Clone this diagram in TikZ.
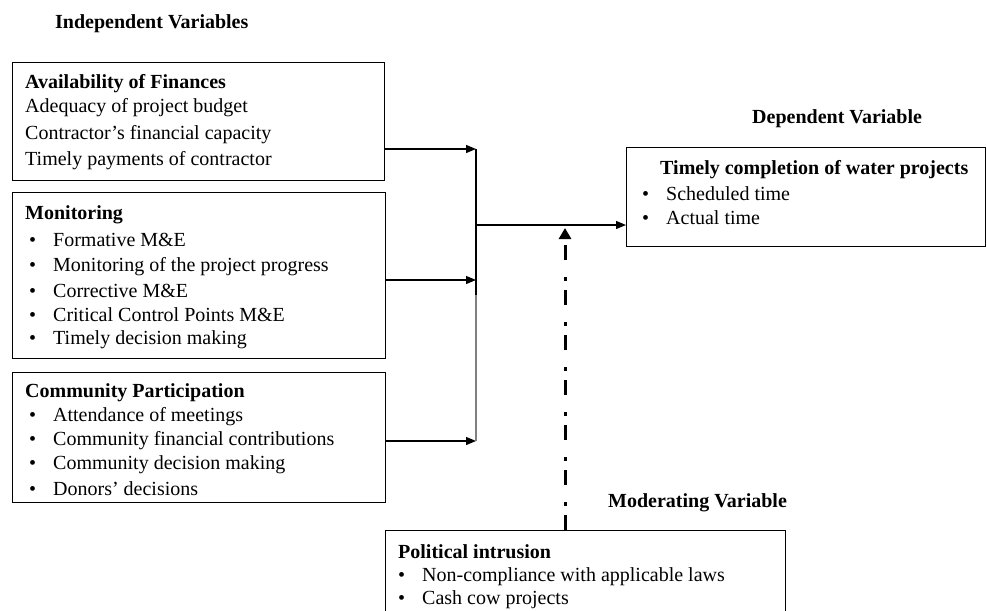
\documentclass[tikz,border=0pt]{standalone}
\usepackage{fontspec}
\setmainfont{Liberation Serif}
\usetikzlibrary{arrows.meta,positioning}
\tikzstyle{line} = [draw, line width=1.2pt, -{Triangle[length=10pt,width=8pt]}]
\tikzstyle{modline} = [draw, line width=3pt, dash pattern=on 15pt off 9pt on 4pt off 17pt, -{Triangle[length=11pt,width=12pt]}]
\tikzstyle{box} = [draw, line width=1.2pt, inner sep=0pt, anchor=north west]
\tikzstyle{txt} = [anchor=west, inner sep=0pt, yshift=-2pt]
\tikzstyle{hd} = [txt, font=\fontsize{20}{22}\selectfont\bfseries]
\newcommand{\bitem}[1]{\makebox[24pt][l]{\textbullet}#1}

\begin{document}
\begin{tikzpicture}[x=1pt,y=-1pt,font=\fontsize{20}{22}\selectfont]
	\clip (0,0) rectangle (987,610);

	% headings
	\node[hd] (indep) at (55,22) {Independent Variables};
	\node[hd] (deph) at (752,117) {Dependent Variable};
	\node[hd] (modh) at (608,501) {Moderating Variable};

	% boxes
	\node[box, minimum width=372pt, minimum height=118pt] (fin) at (12,62) {};
	\node[box, minimum width=373pt, minimum height=166pt] (mon) at (12,192) {};
	\node[box, minimum width=373pt, minimum height=130pt] (com) at (12,372) {};
	\node[box, minimum width=359pt, minimum height=99pt] (dep) at (626,147) {};
	\node[box, minimum width=400pt, minimum height=100pt] (pol) at (385,530) {};

	% availability of finances
	\node[hd] (fin-t) at (25,82) {Availability of Finances};
	\foreach \y/\t in {106/Adequacy of project budget, 133/Contractor’s financial capacity, 159/Timely payments of contractor}
		\node[txt] (fin-\y) at (25,\y) {\t};

	% monitoring
	\node[hd] (mon-t) at (25,213) {Monitoring};
	\foreach \y/\t in {238/Formative M\&E, 265/Monitoring of the project progress, 289/Corrective M\&E, 313/Critical Control Points M\&E, 338/Timely decision making}
		\node[txt] (mon-\y) at (29,\y) {\bitem{\t}};

	% community participation
	\node[hd] (com-t) at (25,391) {Community Participation};
	\foreach \y/\t in {415/Attendance of meetings, 439/Community financial contributions, 463/Community decision making, 487/Donors’ decisions}
		\node[txt] (com-\y) at (29,\y) {\bitem{\t}};

	% dependent variable
	\node[hd] (dep-t) at (660,168) {Timely completion of water projects};
	\foreach \y/\t in {192/Scheduled time, 216/Actual time}
		\node[txt] (dep-\y) at (642,\y) {\bitem{\t}};

	% moderating variable
	\node[hd] (pol-t) at (398,550) {Political intrusion};
	\foreach \y/\t in {575/Non-compliance with applicable laws, 598/Cash cow projects}
		\node[txt] (pol-\y) at (398,\y) {\bitem{\t}};

	% connectors
	\coordinate (ja) at (476,149);
	\coordinate (jb) at (476,280);
	\coordinate (jm) at (476,295);
	\coordinate (jc) at (476,441);
	\coordinate (j) at (476,225);
	\coordinate (m) at (565,228);

	\draw[line] (fin.east |- ja) -- (ja);
	\draw[line] (mon.east |- jb) -- (jb);
	\draw[line] (com.east |- jc) -- (jc);
	\draw[line width=1.2pt] (ja) -- (jm);
	\draw[line width=1.2pt, gray] (jm) -- (jc);
	\draw[line] (j) -- (dep.west |- j);
	\draw[modline] (m |- pol.north) -- (m);

\end{tikzpicture}
\end{document}
